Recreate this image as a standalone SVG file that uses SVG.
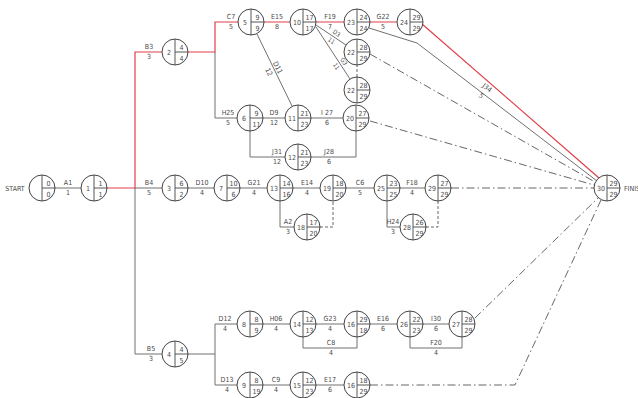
<svg xmlns="http://www.w3.org/2000/svg" width="638" height="398" viewBox="0 0 638 398">
<style>
text{font-family:"Liberation Sans Narrow","DejaVu Sans Condensed","Liberation Sans",sans-serif;font-size:7px;fill:#4a4a4a;text-anchor:middle}
.nc{fill:#fff;stroke:#444;stroke-width:1}
.nl{stroke:#444;stroke-width:0.9}
.e{fill:none;stroke:#707070;stroke-width:1}
.r{fill:none;stroke:#e0404a;stroke-width:1.2}
.d{fill:none;stroke:#555;stroke-width:0.9;stroke-dasharray:8 3 1.5 3}
.dd{fill:none;stroke:#555;stroke-width:0.9;stroke-dasharray:3 2}
</style>
<defs>
<g id="nb"><circle class="nc" r="13" fill="#fff" stroke="#444"/><line class="nl" x1="0" y1="-13" x2="0" y2="13" stroke="#444"/><line class="nl" x1="0" y1="0" x2="13" y2="0" stroke="#444"/></g>
</defs>
<g id="connectors">
<path class="e" d="M55,188 H81"/>
<path class="e" d="M135,188 H162 M188,188 H214 M240,188 H267 M293,188 H320 M346,188 H374 M400,188 H425"/>
<path class="e" d="M135,188 V354 H162"/>
<path class="e" d="M215,52 V118 H237 M263,118 H285 M311,118 H343"/>
<path class="e" d="M250,131 V157 H285 M311,157 H356 V131"/>
<path class="e" d="M257,34 L292,106"/>
<path class="e" d="M316,25 L346,45 M316,27 L350,79"/>
<path class="e" d="M369,28 L417,43 L597,181"/>
<path class="e" d="M280,201 V227 H294 M387,201 V227 H400"/>
<path class="e" d="M188,354 H215 M215,324 V385 M215,324 H237 M215,385 H237"/>
<path class="e" d="M263,324 H290 M316,324 H344 M370,324 H397 M423,324 H449"/>
<path class="e" d="M303,337 V348 H357 V337 M410,337 V348 H462 V337"/>
<path class="e" d="M263,385 H290 M316,385 H344"/>
<path class="r" d="M107,188 H135 V52 H162"/>
<path class="r" d="M188,52 H215 V22 H238 M264,22 H290 M316,22 H344 M370,22 H397"/>
<path class="r" d="M422,24 L599,178"/>
<path class="d" d="M370,54 L595,182"/>
<path class="d" d="M370,121 L594,185"/>
<path class="d" d="M451,188 H594"/>
<path class="d" d="M475,318 L598,198"/>
<path class="d" d="M370,385 H515 L601,200"/>
<path class="dd" d="M357,77 V65"/>
<path class="dd" d="M320,227 H333 V201"/>
<path class="dd" d="M426,227 H438 V201"/>
</g>
<g id="labels">
<text x="68" y="185">A1</text><text x="68" y="195">1</text>
<text x="149" y="185">B4</text><text x="149" y="195">5</text>
<text x="149" y="49">B3</text><text x="149" y="59">3</text>
<text x="151" y="351">B5</text><text x="151" y="361">3</text>
<text x="202" y="185">D10</text><text x="202" y="195">4</text>
<text x="254" y="185">G21</text><text x="254" y="195">4</text>
<text x="307" y="185">E14</text><text x="307" y="195">4</text>
<text x="360" y="185">C6</text><text x="360" y="195">5</text>
<text x="412" y="185">F18</text><text x="412" y="195">4</text>
<text x="231" y="19">C7</text><text x="231" y="29">5</text>
<text x="277" y="19">E15</text><text x="277" y="29">8</text>
<text x="330" y="19">F19</text><text x="330" y="29">7</text>
<text x="383" y="19">G22</text><text x="383" y="29">5</text>
<text x="228" y="115">H25</text><text x="228" y="125">5</text>
<text x="274" y="115">D9</text><text x="274" y="125">12</text>
<text x="327" y="115">I 27</text><text x="327" y="125">6</text>
<text x="277" y="154">J31</text><text x="277" y="164">12</text>
<text x="329" y="154">J28</text><text x="329" y="164">6</text>
<text x="288" y="224">A2</text><text x="288" y="234">3</text>
<text x="393" y="224">H24</text><text x="393" y="234">3</text>
<text x="225" y="321">D12</text><text x="225" y="331">4</text>
<text x="227" y="382">D13</text><text x="227" y="392">4</text>
<text x="276" y="321">H06</text><text x="276" y="331">4</text>
<text x="276" y="382">C9</text><text x="276" y="392">4</text>
<text x="330" y="321">G23</text><text x="330" y="331">4</text>
<text x="331" y="345">C8</text><text x="331" y="355">4</text>
<text x="383" y="321">E16</text><text x="383" y="331">6</text>
<text x="436" y="321">I30</text><text x="436" y="331">6</text>
<text x="436" y="345">F20</text><text x="436" y="355">4</text>
<text x="330" y="382">E17</text><text x="330" y="392">6</text>
<g transform="translate(273,70) rotate(64)"><text x="0" y="-3">D11</text><text x="0" y="7">12</text></g>
<g transform="translate(334,37) rotate(34)"><text x="0" y="-2.5" style="font-size:6px">D3</text><text x="0" y="6.5" style="font-size:6px">11</text></g>
<g transform="translate(340,64) rotate(57)"><text x="0" y="-2.5" style="font-size:6px">G3</text><text x="0" y="6.5" style="font-size:6px">11</text></g>
<g transform="translate(484,92) rotate(37)"><text x="0" y="-3">J34</text><text x="0" y="7">5</text></g>
<text x="15" y="191">START</text>
<text x="624" y="191" style="text-anchor:start">FINISH</text>
</g>
<g id="n0" transform="translate(42,188)"><use href="#nb"/><text x="6.5" y="-2.5">0</text><text x="6.5" y="8.5">0</text></g>
<g id="n1" transform="translate(94,188)"><use href="#nb"/><text x="-6" y="3">1</text><text x="6.5" y="-2.5">1</text><text x="6.5" y="8.5">1</text></g>
<g id="n2" transform="translate(175,52)"><use href="#nb"/><text x="-6" y="3">2</text><text x="6.5" y="-2.5">4</text><text x="6.5" y="8.5">4</text></g>
<g id="n3" transform="translate(175,188)"><use href="#nb"/><text x="-6" y="3">3</text><text x="6.5" y="-2.5">6</text><text x="6.5" y="8.5">2</text></g>
<g id="n4" transform="translate(175,354)"><use href="#nb"/><text x="-6" y="3">4</text><text x="6.5" y="-2.5">4</text><text x="6.5" y="8.5">5</text></g>
<g id="n5" transform="translate(251,22)"><use href="#nb"/><text x="-6" y="3">5</text><text x="6.5" y="-2.5">9</text><text x="6.5" y="8.5">9</text></g>
<g id="n6" transform="translate(250,118)"><use href="#nb"/><text x="-6" y="3">6</text><text x="6.5" y="-2.5">9</text><text x="6.5" y="8.5">11</text></g>
<g id="n7" transform="translate(227,188)"><use href="#nb"/><text x="-6" y="3">7</text><text x="6.5" y="-2.5">10</text><text x="6.5" y="8.5">6</text></g>
<g id="n8" transform="translate(250,324)"><use href="#nb"/><text x="-6" y="3">8</text><text x="6.5" y="-2.5">8</text><text x="6.5" y="8.5">9</text></g>
<g id="n9" transform="translate(250,385)"><use href="#nb"/><text x="-6" y="3">9</text><text x="6.5" y="-2.5">8</text><text x="6.5" y="8.5">19</text></g>
<g id="n10" transform="translate(303,22)"><use href="#nb"/><text x="-6" y="3">10</text><text x="6.5" y="-2.5">17</text><text x="6.5" y="8.5">17</text></g>
<g id="n11" transform="translate(298,118)"><use href="#nb"/><text x="-6" y="3">11</text><text x="6.5" y="-2.5">21</text><text x="6.5" y="8.5">23</text></g>
<g id="n12" transform="translate(298,157)"><use href="#nb"/><text x="-6" y="3">12</text><text x="6.5" y="-2.5">21</text><text x="6.5" y="8.5">23</text></g>
<g id="n13" transform="translate(280,188)"><use href="#nb"/><text x="-6" y="3">13</text><text x="6.5" y="-2.5">14</text><text x="6.5" y="8.5">16</text></g>
<g id="n14" transform="translate(303,324)"><use href="#nb"/><text x="-6" y="3">14</text><text x="6.5" y="-2.5">12</text><text x="6.5" y="8.5">13</text></g>
<g id="n15" transform="translate(303,385)"><use href="#nb"/><text x="-6" y="3">15</text><text x="6.5" y="-2.5">12</text><text x="6.5" y="8.5">23</text></g>
<g id="n16a" transform="translate(357,324)"><use href="#nb"/><text x="-6" y="3">16</text><text x="6.5" y="-2.5">29</text><text x="6.5" y="8.5">18</text></g>
<g id="n16b" transform="translate(357,385)"><use href="#nb"/><text x="-6" y="3">16</text><text x="6.5" y="-2.5">18</text><text x="6.5" y="8.5">29</text></g>
<g id="n18" transform="translate(307,227)"><use href="#nb"/><text x="-6" y="3">18</text><text x="6.5" y="-2.5">17</text><text x="6.5" y="8.5">20</text></g>
<g id="n19" transform="translate(333,188)"><use href="#nb"/><text x="-6" y="3">19</text><text x="6.5" y="-2.5">18</text><text x="6.5" y="8.5">20</text></g>
<g id="n20" transform="translate(356,118)"><use href="#nb"/><text x="-6" y="3">20</text><text x="6.5" y="-2.5">27</text><text x="6.5" y="8.5">29</text></g>
<g id="n22a" transform="translate(357,52)"><use href="#nb"/><text x="-6" y="3">22</text><text x="6.5" y="-2.5">28</text><text x="6.5" y="8.5">29</text></g>
<g id="n22b" transform="translate(357,90)"><use href="#nb"/><text x="-6" y="3">22</text><text x="6.5" y="-2.5">28</text><text x="6.5" y="8.5">29</text></g>
<g id="n23" transform="translate(357,22)"><use href="#nb"/><text x="-6" y="3">23</text><text x="6.5" y="-2.5">24</text><text x="6.5" y="8.5">24</text></g>
<g id="n24" transform="translate(410,22)"><use href="#nb"/><text x="-6" y="3">24</text><text x="6.5" y="-2.5">29</text><text x="6.5" y="8.5">29</text></g>
<g id="n25" transform="translate(387,188)"><use href="#nb"/><text x="-6" y="3">25</text><text x="6.5" y="-2.5">23</text><text x="6.5" y="8.5">25</text></g>
<g id="n26" transform="translate(410,324)"><use href="#nb"/><text x="-6" y="3">26</text><text x="6.5" y="-2.5">22</text><text x="6.5" y="8.5">23</text></g>
<g id="n27" transform="translate(462,324)"><use href="#nb"/><text x="-6" y="3">27</text><text x="6.5" y="-2.5">28</text><text x="6.5" y="8.5">29</text></g>
<g id="n28" transform="translate(413,227)"><use href="#nb"/><text x="-6" y="3">28</text><text x="6.5" y="-2.5">26</text><text x="6.5" y="8.5">29</text></g>
<g id="n29" transform="translate(438,188)"><use href="#nb"/><text x="-6" y="3">29</text><text x="6.5" y="-2.5">27</text><text x="6.5" y="8.5">29</text></g>
<g id="n30" transform="translate(607,188)"><use href="#nb"/><text x="-6" y="3">30</text><text x="6.5" y="-2.5">29</text><text x="6.5" y="8.5">29</text></g>
</svg>
